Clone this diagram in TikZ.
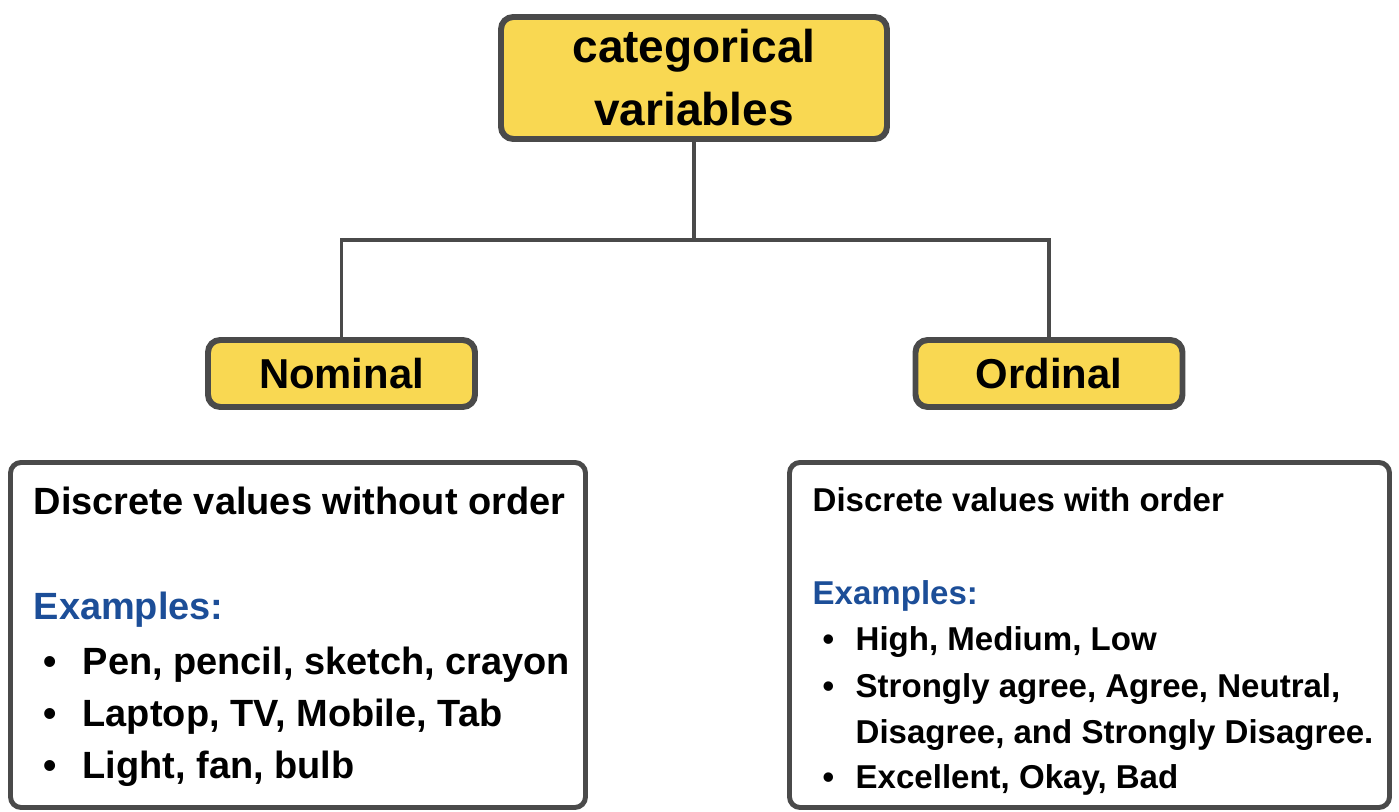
\documentclass[tikz,border=0pt]{standalone}
\usepackage{fontspec}
\setmainfont{Liberation Sans}
\definecolor{boxyellow}{RGB}{249,216,82}
\definecolor{edgegray}{RGB}{74,74,74}
\definecolor{exblue}{RGB}{28,78,152}
\newcommand{\bitem}[2]{\makebox[#1][l]{\textbullet}#2}

\begin{document}
\begin{tikzpicture}[
    catbox/.style={draw=edgegray, line width=1.7pt, fill=boxyellow, rounded corners=3.5pt, align=center, inner sep=0pt},
    infobox/.style={draw=edgegray, line width=1.4pt, rounded corners=3pt, minimum height=3.45cm, inner sep=0pt},
    link/.style={draw=edgegray, line width=0.9pt},
    lefttxt/.style={anchor=base west, inner sep=0pt, font=\fontsize{10.8}{13}\selectfont\bfseries},
    righttxt/.style={anchor=base west, inner sep=0pt, font=\fontsize{9.4}{11}\selectfont\bfseries}]

  \useasboundingbox (0,0) rectangle (13.99,-8.12);

  % categorical variables
  \node[catbox, minimum width=3.86cm, minimum height=1.22cm, font=\fontsize{13.1}{17.9}\selectfont\bfseries] (cat) at (6.94,-0.78) {categorical\\variables};

  % Nominal / Ordinal
  \node[catbox, minimum width=2.67cm, minimum height=0.67cm, font=\fontsize{11.9}{14}\selectfont\bfseries] (nom) at (3.415,-3.735) {Nominal};
  \node[catbox, minimum width=2.67cm, minimum height=0.67cm, font=\fontsize{11.9}{14}\selectfont\bfseries] (ord) at (10.49,-3.735) {Ordinal};

  \draw[link] (cat.south) -- ++(0,-0.98) coordinate (split);
  \draw[link] (nom.north) |- (split) -| (ord.north);

  % Nominal facts
  \node[infobox, minimum width=5.75cm] (nomfacts) at (2.98,-6.35) {};
  \node[lefttxt] (nomdesc) at (0.33,-5.15) {Discrete values without order};
  \node[lefttxt, text=exblue] (nomex) at (0.33,-6.20) {Examples:};
  \node[lefttxt] (nom1) at (0.43,-6.75) {\bitem{0.39cm}{Pen, pencil, sketch, crayon}};
  \node[lefttxt] (nom2) at (0.43,-7.27) {\bitem{0.39cm}{Laptop, TV, Mobile, Tab}};
  \node[lefttxt] (nom3) at (0.43,-7.79) {\bitem{0.39cm}{Light, fan, bulb}};

  % Ordinal facts
  \node[infobox, minimum width=6.0cm] (ordfacts) at (10.895,-6.35) {};
  \node[righttxt] (orddesc) at (8.12,-5.12) {Discrete values with order};
  \node[righttxt, text=exblue] (ordex) at (8.12,-6.05) {Examples:};
  \node[righttxt] (ord1) at (8.22,-6.51) {\bitem{0.33cm}{High, Medium, Low}};
  \node[righttxt] (ord2) at (8.22,-6.98) {\bitem{0.33cm}{Strongly agree, Agree, Neutral,}};
  \node[righttxt] (ord3) at (8.55,-7.44) {Disagree, and Strongly Disagree.};
  \node[righttxt] (ord4) at (8.22,-7.89) {\bitem{0.33cm}{Excellent, Okay, Bad}};
\end{tikzpicture}
\end{document}
